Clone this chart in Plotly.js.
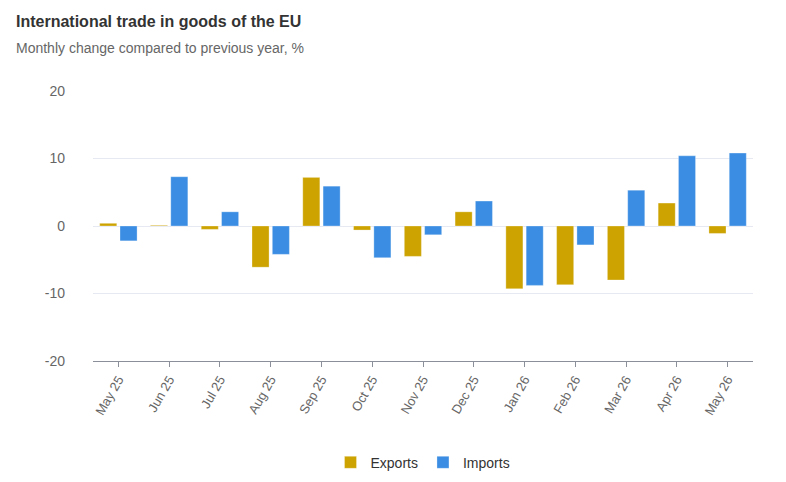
<!DOCTYPE html>
<html>
<head>
<meta charset="utf-8">
<script src="https://cdn.plot.ly/plotly-3.0.1.min.js"></script>
<style>html,body{margin:0;padding:0;background:#fff;}#chart{width:786px;height:482px;}</style>
</head>
<body>
<div id="chart"></div>
<script>
var months = ["May 25","Jun 25","Jul 25","Aug 25","Sep 25","Oct 25","Nov 25","Dec 25","Jan 26","Feb 26","Mar 26","Apr 26","May 26"];
var exportsVals = [0.4, 0.1, -0.5, -6.1, 7.2, -0.6, -4.5, 2.1, -9.3, -8.7, -8.0, 3.4, -1.1];
var importsVals = [-2.2, 7.3, 2.1, -4.2, 5.9, -4.7, -1.3, 3.7, -8.8, -2.8, 5.3, 10.4, 10.8];
var yTicks = [-20, -10, 0, 10, 20];

var font = "Liberation Sans, Arial, sans-serif";
var traces = [
  {type:"bar", name:"Exports", x:months, y:exportsVals,
   marker:{color:"#CCA300", line:{color:"rgba(255,255,255,0.6)", width:0.5}}, hoverinfo:"x+y"},
  {type:"bar", name:"Imports", x:months, y:importsVals,
   marker:{color:"#3A8DE3", line:{color:"rgba(255,255,255,0.6)", width:0.5}}, hoverinfo:"x+y"}
];
var layout = {
  width:786, height:482,
  margin:{l:93, r:33, t:91, b:121, autoexpand:false},
  paper_bgcolor:"#fff", plot_bgcolor:"#fff",
  font:{family:font, color:"#666", size:12},
  barmode:"group", bargap:0.2, bargroupgap:0.16,
  showlegend:true,
  legend:{orientation:"h", x:0.5, xanchor:"center", xref:"paper", yref:"container", y:0.04, yanchor:"middle",
          font:{size:14, color:"#333"}, itemwidth:30, traceorder:"normal"},
  xaxis:{type:"category", showgrid:false, showline:true, linecolor:"#8a8f99", linewidth:1,
         ticks:"outside", ticklen:5, tickcolor:"#8a8f99", tickangle:-60,
         tickfont:{size:13, color:"#666"}, zeroline:false, fixedrange:true, automargin:false},
  yaxis:{range:[-20,20], tickvals:yTicks, ticktext:yTicks.map(String), showgrid:true, gridcolor:"#e6e9f2",
         zeroline:true, zerolinecolor:"#e6e9f2", zerolinewidth:1, showline:false,
         tickfont:{size:14, color:"#666"}, ticklabelstandoff:27, fixedrange:true, automargin:false},
  annotations:[
    {xref:"paper", yref:"paper", x:-0.1197, y:1.2556, xanchor:"left", yanchor:"middle", showarrow:false,
     text:"<b>International trade in goods of the EU</b>", font:{family:font, size:16, color:"#333"}},
    {xref:"paper", yref:"paper", x:-0.1197, y:1.159, xanchor:"left", yanchor:"middle", showarrow:false,
     text:"Monthly change compared to previous year, %", font:{family:font, size:14, color:"#666"}}
  ]
};
Plotly.newPlot("chart", traces, layout, {displayModeBar:false, staticPlot:true});
</script>
</body>
</html>
